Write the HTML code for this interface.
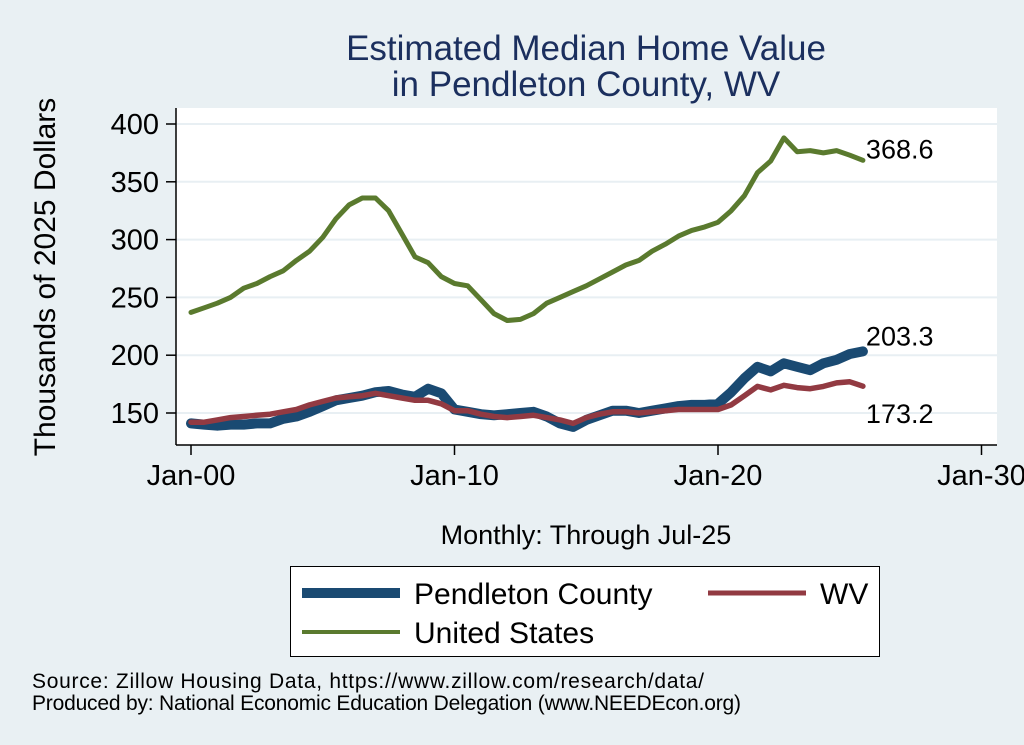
<!DOCTYPE html>
<html><head><meta charset="utf-8"><style>
body{margin:0;background:#e9f0f3;}
svg{display:block;font-family:"Liberation Sans",sans-serif;}
</style></head><body>
<svg id="chart" width="1024" height="745">
<rect x="0" y="0" width="1024" height="745" fill="#e9f0f3"/>
<text x="586" y="60" font-size="35" fill="#1b2f5e" text-anchor="middle">Estimated Median Home Value</text>
<text x="586" y="96" font-size="35" fill="#1b2f5e" text-anchor="middle">in Pendleton County, WV</text>
<rect x="176" y="108" width="821" height="337" fill="#fff"/>
<g id="grid"></g><g id="axes"></g><g id="series"></g>
<text transform="translate(55,277) rotate(-90)" font-size="30" text-anchor="middle" fill="#000">Thousands of 2025 Dollars</text>
<text x="586" y="544" font-size="27" text-anchor="middle" fill="#000">Monthly: Through Jul-25</text>
<g>
<rect x="290.5" y="566.5" width="589" height="90" fill="#fff" stroke="#000" stroke-width="1"/>
<line x1="302" y1="593" x2="400" y2="593" stroke="#1a4a72" stroke-width="10"/>
<text x="414" y="604" font-size="30">Pendleton County</text>
<line x1="708" y1="593" x2="806" y2="593" stroke="#923a42" stroke-width="5"/>
<text x="820" y="604" font-size="30">WV</text>
<line x1="302" y1="632" x2="400" y2="632" stroke="#5a7a2e" stroke-width="4"/>
<text x="414" y="643" font-size="30">United States</text>
</g>
<text x="32" y="688" font-size="21" textLength="672">Source: Zillow Housing Data, https://www.zillow.com/research/data/</text>
<text x="32" y="710" font-size="21" textLength="709">Produced by: National Economic Education Delegation (www.NEEDEcon.org)</text>
</svg>
<script>
const yTicks=[150,200,250,300,350,400];
const xTickYears=[2000,2010,2020,2030];
const xTickLabels=["Jan-00","Jan-10","Jan-20","Jan-30"];
const startYear=2000, stepYears=0.5;
const usValues=[237,241,245,250,258,262,268,273,282,290,302,318,330,336,336,325,305,285,280,268,262,260,248,236,230,231,236,245,250,255,260,266,272,278,282,290,296,303,308,311,315,325,338,358,368,388,376,377,375,377,373,368.6];
const pendletonValues=[141,140,139,140,140,141,141,145,147,151,156,161,163,165,168,169,166,164,171,167,153,151,149,148,149,150,151,147,141,138,144,148,152,152,150,152,154,156,157,157,158,168,180,190,186,193,190,187,193,196,201,203.3];
const wvValues=[142,142,144,146,147,148,149,151,153,157,160,163,164,165,167,165,163,161,161,158,152,152,149,147,146,147,148,146,144,141,146,149,151,151,150,151,152,153,153,153,153,157,165,173,170,174,172,171,173,176,177,173.2];
const NS="http://www.w3.org/2000/svg";
function X(yr){return 191+(yr-2000)*26.35;}
function Y(v){return 413-(v-150)*1.156;}
function mk(tag,attrs,parent){const e=document.createElementNS(NS,tag);for(const k in attrs)e.setAttribute(k,attrs[k]);parent.appendChild(e);return e;}
const grid=document.getElementById('grid'),axes=document.getElementById('axes'),series=document.getElementById('series');
yTicks.forEach(v=>{
 const g=mk('line',{x1:176,x2:997,y1:Y(v),y2:Y(v),stroke:'#e8eff3','stroke-width':2},grid);
 
 
 const t=mk('line',{x1:166,x2:176,y1:Y(v),y2:Y(v),stroke:'#000','stroke-width':1.5},axes);
 
 
 const l=mk('text',{x:159,y:Y(v)+10,'font-size':29,'text-anchor':'end'},axes);
 l.textContent=v;
 
 
});
const ya=mk('line',{x1:176,x2:176,y1:108,y2:445,stroke:'#000','stroke-width':1.5},axes);


const xa=mk('line',{x1:176,x2:997,y1:445,y2:445,stroke:'#000','stroke-width':1.5},axes);


xTickYears.forEach((yr,i)=>{
 const t=mk('line',{x1:X(yr),x2:X(yr),y1:445,y2:455,stroke:'#000','stroke-width':1.5},axes);
 
 
 const l=mk('text',{x:X(yr),y:485,'font-size':29,'text-anchor':'middle'},axes);
 l.textContent=xTickLabels[i];
 
 
});
function line(vals,color,w,name){
 const d=vals.map((v,i)=>(i?'L':'M')+X(startYear+i*stepYears).toFixed(1)+','+Y(v).toFixed(1)).join('');
 const p=mk('path',{d:d,fill:'none',stroke:color,'stroke-width':w,'stroke-linejoin':'round','stroke-linecap':'round'},series);
 
 
}
line(usValues,'#5a7a2e',5,'us-line');
line(pendletonValues,'#1a4a72',10,'pendleton-line');
line(wvValues,'#923a42',5.5,'wv-line');
const lastX=X(startYear+(usValues.length-1)*stepYears);
[[usValues,-2,'us-end-label'],[pendletonValues,-6,'pendleton-end-label'],[wvValues,+37,'wv-end-label']].forEach(([vals,dy,name])=>{
 const v=vals[vals.length-1];
 const t=mk('text',{x:lastX+3,y:Y(v)+dy,'font-size':27},series);
 t.textContent=v.toFixed(1);
 
 
});
</script>
</body></html>
